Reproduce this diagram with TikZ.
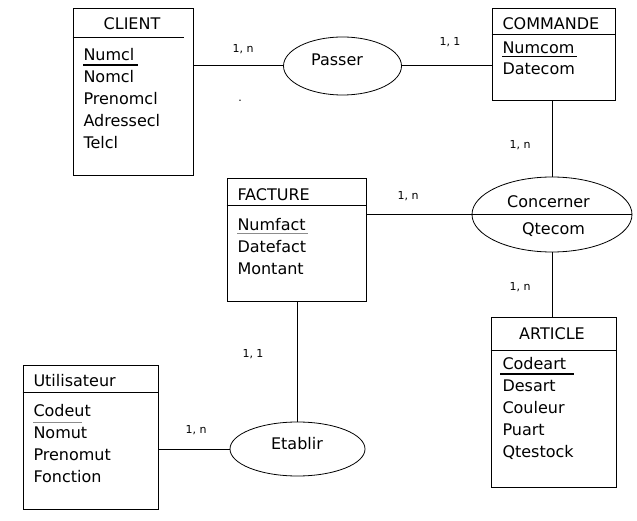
\documentclass[tikz,border=0pt]{standalone}
\usepackage{fontspec}
\setmainfont{DejaVu Sans}
\usetikzlibrary{shapes.geometric, positioning}

\begin{document}
\begin{tikzpicture}[x=1pt, y=-1pt, line width=1pt,
        entite/.style={draw, rectangle, inner sep=0pt},
        assoc/.style={draw, ellipse, inner sep=0pt, line width=0.8pt},
        titre/.style={inner sep=0pt, font=\fontsize{16}{19}\selectfont},
        attr/.style={anchor=base west, inner sep=0pt, font=\fontsize{16}{19}\selectfont},
        card/.style={inner sep=0pt, font=\fontsize{11}{13}\selectfont},
        cle/.style={line width=1.6pt}]
        \useasboundingbox (0,0) rectangle (637,521);

        % CLIENT
        \node[entite, minimum width=120pt, minimum height=167pt] (client) at (133,92.5) {};
        \node[titre, anchor=base] (clienttitre) at (132,30) {CLIENT};
        \draw ([yshift=-29pt]client.north west) -- ([xshift=-10pt,yshift=-29pt]client.north east);
        \foreach \a [count=\i] in {Numcl,Nomcl,Prenomcl,Adressecl,Telcl}
            \node[attr] (client\i) at (83,39+22*\i) {\a};
        \draw[cle, line width=1.2pt] ([yshift=-4pt]client1.base west) -- ([xshift=3pt,yshift=-4pt]client1.base east);

        % COMMANDE
        \node[entite, minimum width=123pt, minimum height=92pt] (commande) at (553.5,55) {};
        \node[titre, anchor=base west] (commandetitre) at (502,30) {COMMANDE};
        \draw ([yshift=-26pt]commande.north west) -- ([yshift=-26pt]commande.north east);
        \foreach \a [count=\i] in {Numcom,Datecom}
            \node[attr] (commande\i) at (502,33+21*\i) {\a};
        \draw[cle] ([yshift=-2.5pt]commande1.base west) -- ([xshift=2pt,yshift=-2.5pt]commande1.base east);

        % FACTURE
        \node[entite, minimum width=139pt, minimum height=123pt] (facture) at (296.5,240.5) {};
        \node[titre, anchor=base west] (facturetitre) at (237,201) {FACTURE};
        \draw ([yshift=-27pt]facture.north west) -- ([yshift=-27pt]facture.north east);
        \foreach \a [count=\i] in {Numfact,Datefact,Montant}
            \node[attr] (facture\i) at (237,209+22*\i) {\a};
        \draw[cle, black!45] ([yshift=-2.5pt]facture1.base west) -- ([xshift=2pt,yshift=-2.5pt]facture1.base east);

        % Utilisateur
        \node[entite, minimum width=135pt, minimum height=144pt] (utilisateur) at (90.5,437) {};
        \node[titre, anchor=base west] (utilisateurtitre) at (33,386) {Utilisateur};
        \draw ([yshift=-28pt]utilisateur.north west) -- ([yshift=-28pt]utilisateur.north east);
        \foreach \a [count=\i] in {Codeut,Nomut,Prenomut,Fonction}
            \node[attr] (utilisateur\i) at (33,394+22*\i) {\a};
        \draw[cle, black!45] ([yshift=-6.5pt]utilisateur1.base west) -- ([xshift=-9pt,yshift=-6.5pt]utilisateur1.base east);

        % ARTICLE
        \node[entite, minimum width=125pt, minimum height=170pt] (article) at (553.5,402) {};
        \node[titre, anchor=base] (articletitre) at (552,339) {ARTICLE};
        \draw ([yshift=-34pt]article.north west) -- ([yshift=-34pt]article.north east);
        \foreach \a [count=\i] in {Codeart,Desart,Couleur,Puart,Qtestock}
            \node[attr] (article\i) at (502,347+22*\i) {\a};
        \draw[cle] ([xshift=-2pt,yshift=-5pt]article1.base west) -- ([xshift=7pt,yshift=-5pt]article1.base east);

        % associations
        \node[assoc, minimum width=118pt, minimum height=58pt] (passer) at (342.5,66) {};
        \node[titre] (passertexte) at (337,60) {Passer};
        \node[assoc, minimum width=160pt, minimum height=75pt] (concerner) at (552,214.5) {};
        \draw[line width=0.8pt] (concerner.west) -- (concerner.east);
        \node[titre] (concernertexte) at (548.5,202) {Concerner};
        \node[titre] (qtecom) at (553.5,230) {Qtecom};
        \node[assoc, minimum width=135pt, minimum height=54pt] (etablir) at (297.5,449) {};
        \node[titre] (etablirtexte) at (297,444) {Etablir};

        % liens
        \draw (passer.west -| client.east) -- (passer.west);
        \draw (passer.east) -- (passer.east -| commande.west);
        \draw (concerner.north) -- (concerner.north |- commande.south);
        \draw (concerner.west -| facture.east) -- (concerner.west);
        \draw (concerner.south) -- (concerner.south |- article.north);
        \draw (etablir.north) -- (etablir.north |- facture.south);
        \draw (etablir.west -| utilisateur.east) -- (etablir.west);

        % cardinalites
        \node[card] (c1) at (243,49) {1, n};
        \node[card] (c2) at (450,42) {1, 1};
        \node[card] (c3) at (520,145) {1, n};
        \node[card] (c4) at (408,196) {1, n};
        \node[card] (c5) at (520,287) {1, n};
        \node[card] (c6) at (253,354) {1, 1};
        \node[card] (c7) at (196,430) {1, n};
        \node[card] (point) at (240,101) {.};
    \end{tikzpicture}
\end{document}
